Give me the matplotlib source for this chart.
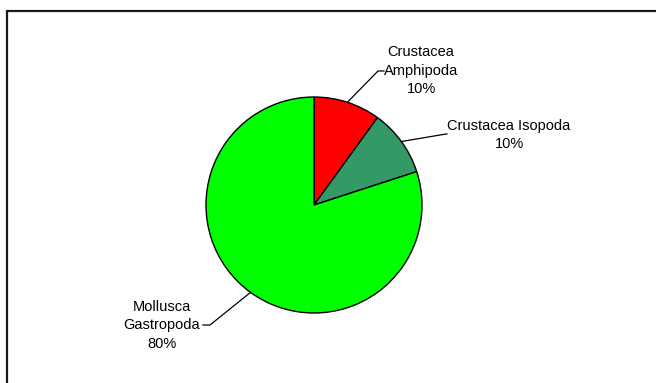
import numpy as np
import matplotlib
matplotlib.use("Agg")
import matplotlib.pyplot as plt
from matplotlib.patches import Rectangle

# Diet composition
categories = ["Crustacea\nAmphipoda", "Crustacea Isopoda", "Mollusca\nGastropoda"]
percentages = [10, 10, 80]
colors = ["#FF0000", "#339966", "#00FF00"]

W, H = 656, 383
fig = plt.figure(figsize=(W / 100, H / 100), dpi=100)
ax = fig.add_axes([0, 0, 1, 1])
ax.set_xlim(0, W)
ax.set_ylim(0, H)
ax.set_aspect("equal")
ax.axis("off")

# Chart border
ax.add_patch(Rectangle((6.5, -10), W + 20, H - 11 + 10, fill=False,
                       edgecolor="#1a1a1a", linewidth=1.6))

cx, cy, r = 314, H - 205, 108
wedges, _ = ax.pie(percentages, colors=colors, startangle=90, counterclock=False,
                   center=(cx, cy), radius=r, frame=True,
                   wedgeprops=dict(edgecolor="black", linewidth=1.0))
ax.set_xlim(0, W)
ax.set_ylim(0, H)
ax.axis("off")

# label text anchor, leader elbow and horizontal end, in pixel offsets
label_text = [(421, 70.5), (509, 135), (162, 325.5)]
elbows = [(378, 71), (446, 134), (210, 325)]
ends = [(384, 71), (447, 134), (203, 325)]

for w, pct, name, (tx, ty), (ex, ey), (hx, hy) in zip(
        wedges, percentages, categories, label_text, elbows, ends):
    mid = np.deg2rad((w.theta1 + w.theta2) / 2)
    sx, sy = cx + r * np.cos(mid), cy + r * np.sin(mid)
    ax.plot([sx, ex, hx], [sy, H - ey, H - hy], color="black", lw=0.9)
    ax.text(tx, H - ty, f"{name}\n{pct}%", ha="center", va="center",
            fontsize=10.5, family="Liberation Sans", linespacing=1.38)

fig.savefig("out.png", dpi=100, facecolor="white")
